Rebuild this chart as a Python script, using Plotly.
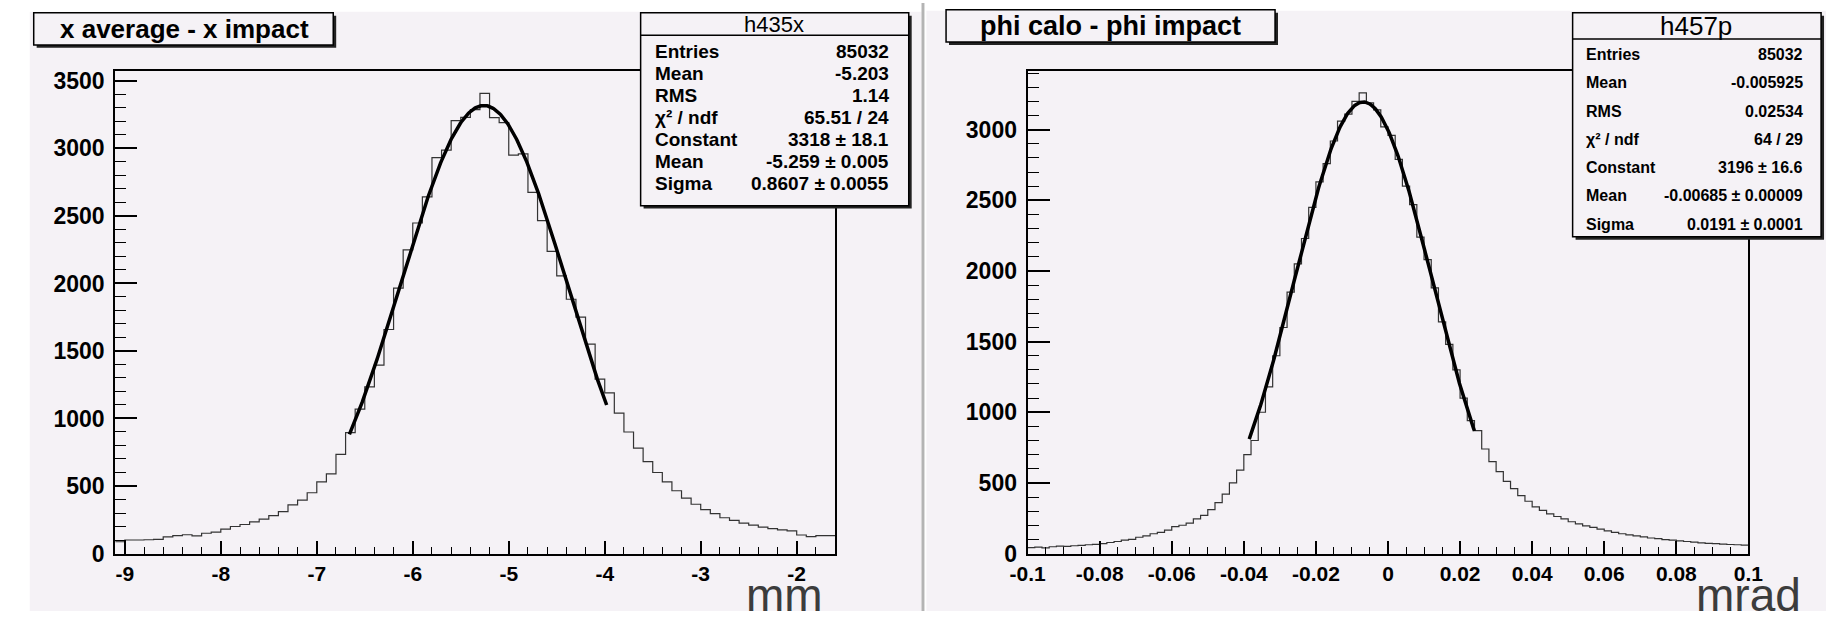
import numpy as np
import plotly.graph_objects as go

W, H = 1841, 624

# ---------------- data ----------------
# left histogram: x average - x impact (mm), 75 bins of 0.1 from -9.1
x_bin_lo = -9.1
x_bin_w = 0.1
x_counts = [87, 100, 100, 102, 105, 123, 132, 139, 130, 150,
            158, 180, 200, 215, 235, 255, 280, 310, 360, 395,
            450, 530, 590, 734, 895, 1070, 1234, 1395, 1659, 1965,
            2249, 2448, 2641, 2932, 2987, 3206, 3230, 3287, 3408, 3228,
            3191, 2951, 2960, 2675, 2465, 2237, 2056, 1883, 1751, 1551,
            1291, 1190, 1040, 900, 780, 680, 600, 530, 465, 410,
            365, 325, 295, 265, 245, 225, 210, 195, 185, 175,
            168, 137, 125, 132, 132]
x_fit = {"const": 3318, "mean": -5.259, "sigma": 0.8607, "lo": -6.66, "hi": -3.98}
x_xticks = [-9, -8, -7, -6, -5, -4, -3, -2]
x_xticktext = ["-9", "-8", "-7", "-6", "-5", "-4", "-3", "-2"]
x_yticks = [0, 500, 1000, 1500, 2000, 2500, 3000, 3500]

# right histogram: phi calo - phi impact (mrad), 100 bins of 0.002 from -0.1
p_bin_lo = -0.1
p_bin_w = 0.002
p_counts = [42, 45, 40, 48, 52, 50, 55, 58, 62, 65,
            70, 78, 85, 95, 100, 115, 125, 140, 150, 165,
            190, 200, 215, 245, 270, 310, 360, 420, 500, 590,
            700, 800, 1000, 1180, 1400, 1600, 1850, 2050, 2230, 2450,
            2630, 2760, 2920, 3060, 3110, 3200, 3260, 3190, 3140, 3020,
            2960, 2790, 2600, 2470, 2240, 2080, 1880, 1640, 1480, 1300,
            1100, 940, 870, 740, 650, 580, 510, 460, 410, 370,
            330, 305, 280, 262, 245, 225, 210, 195, 185, 172,
            160, 150, 140, 132, 125, 118, 110, 105, 98, 95,
            90, 85, 80, 76, 72, 70, 66, 64, 62, 60]
p_fit = {"const": 3196, "mean": -0.00685, "sigma": 0.0191, "lo": -0.0385, "hi": 0.024}
p_xticks = [-0.1, -0.08, -0.06, -0.04, -0.02, 0, 0.02, 0.04, 0.06, 0.08, 0.1]
p_xticktext = ["-0.1", "-0.08", "-0.06", "-0.04", "-0.02", "0", "0.02", "0.04", "0.06", "0.08", "0.1"]
p_yticks = [0, 500, 1000, 1500, 2000, 2500, 3000]

stat_labels = ["Entries", "Mean", "RMS", "χ² / ndf", "Constant", "Mean", "Sigma"]
x_stat_values = ["85032", "-5.203", "1.14", "65.51 / 24", "3318 ± 18.1", "-5.259 ± 0.005", "0.8607 ± 0.0055"]
p_stat_values = ["85032", "-0.005925", "0.02534", "64 / 29", "3196 ± 16.6", "-0.00685 ± 0.00009", "0.0191 ± 0.0001"]

# ---------------- helpers ----------------
BG = "#f5f2f6"
FONT = "Liberation Sans, Arial, Helvetica, sans-serif"


def px(x):
    return x / W


def py(y):
    return 1 - y / H


def step_xy(lo, w, counts):
    edges = lo + w * np.arange(len(counts) + 1)
    ys = list(counts) + [counts[-1]]
    return edges, ys


def gauss(p, n=300):
    xs = np.linspace(p["lo"], p["hi"], n)
    return xs, p["const"] * np.exp(-0.5 * ((xs - p["mean"]) / p["sigma"]) ** 2)


fig = go.Figure()

ex, ey = step_xy(x_bin_lo, x_bin_w, x_counts)
fig.add_trace(go.Scatter(x=ex, y=ey, mode="lines", line=dict(shape="hv", color="#333333", width=1.2),
                         xaxis="x", yaxis="y", hoverinfo="skip"))
fx, fy = gauss(x_fit)
fig.add_trace(go.Scatter(x=fx, y=fy, mode="lines", line=dict(color="black", width=3.5),
                         xaxis="x", yaxis="y", hoverinfo="skip"))

ex2, ey2 = step_xy(p_bin_lo, p_bin_w, p_counts)
fig.add_trace(go.Scatter(x=ex2, y=ey2, mode="lines", line=dict(shape="hv", color="#333333", width=1.2),
                         xaxis="x2", yaxis="y2", hoverinfo="skip"))
fx2, fy2 = gauss(p_fit)
fig.add_trace(go.Scatter(x=fx2, y=fy2, mode="lines", line=dict(color="black", width=3.5),
                         xaxis="x2", yaxis="y2", hoverinfo="skip"))

ydom = [py(565), py(70)]
xtickfont = dict(family=FONT, size=21, color="black", weight="bold")
ytickfont = dict(family=FONT, size=23, color="black", weight="bold")

common_axis = dict(showgrid=False, zeroline=False, showline=True, linecolor="black", linewidth=2,
                   mirror=True, ticks="inside", tickcolor="black", tickwidth=1.5)

fig.update_layout(
    width=W, height=H, margin=dict(l=0, r=0, t=0, b=0),
    paper_bgcolor="white", plot_bgcolor="rgba(0,0,0,0)", showlegend=False,
    xaxis=dict(domain=[px(99), px(832)], range=[-9.1, -1.6], anchor="y",
               tickmode="array", tickvals=x_xticks, ticktext=x_xticktext, ticklen=13,
               minor=dict(ticks="inside", tick0=-9, dtick=0.2, ticklen=7, tickcolor="black", tickwidth=1),
               tickfont=xtickfont, **common_axis),
    yaxis=dict(domain=ydom, range=[0, 3572], anchor="x",
               tickmode="array", tickvals=x_yticks, ticktext=[str(v) for v in x_yticks], ticklen=22,
               minor=dict(ticks="inside", tick0=0, dtick=100, ticklen=11, tickcolor="black", tickwidth=1),
               tickfont=ytickfont, ticklabelstandoff=4, **common_axis),
    xaxis2=dict(domain=[px(1028), px(1762)], range=[-0.1, 0.1], anchor="y2",
                tickmode="array", tickvals=p_xticks, ticktext=p_xticktext, ticklen=13,
                minor=dict(ticks="inside", tick0=-0.1, dtick=0.005, ticklen=7, tickcolor="black", tickwidth=1),
                tickfont=xtickfont, **common_axis),
    yaxis2=dict(domain=ydom, range=[0, 3414], anchor="x2",
                tickmode="array", tickvals=p_yticks, ticktext=[str(v) for v in p_yticks], ticklen=22,
                minor=dict(ticks="inside", tick0=0, dtick=100, ticklen=11, tickcolor="black", tickwidth=1),
                tickfont=ytickfont, ticklabelstandoff=4, **common_axis),
)

shapes = []
# pads
shapes.append(dict(type="rect", xref="paper", yref="paper", x0=px(12), x1=px(920), y0=py(624), y1=py(9),
                   fillcolor=BG, line=dict(width=0), layer="below"))
shapes.append(dict(type="rect", xref="paper", yref="paper", x0=px(920), x1=px(923), y0=py(624), y1=py(0),
                   fillcolor="#b4b4b4", line=dict(width=0), layer="below"))
shapes.append(dict(type="rect", xref="paper", yref="paper", x0=px(925), x1=px(1841), y0=py(624), y1=py(8),
                   fillcolor=BG, line=dict(width=0), layer="below"))


def boxed(x0, y0, x1, y1, shadow=3):
    shapes.append(dict(type="rect", xref="paper", yref="paper", x0=px(x0 + shadow), x1=px(x1 + shadow),
                       y0=py(y1 + shadow), y1=py(y0 + shadow), fillcolor="#222222", line=dict(width=0),
                       layer="above"))
    shapes.append(dict(type="rect", xref="paper", yref="paper", x0=px(x0), x1=px(x1), y0=py(y1), y1=py(y0),
                       fillcolor=BG, line=dict(color="black", width=1.5), layer="above"))


annotations = []


def text(x, y, s, size, anchor="left", bold=True, family=FONT, color="black"):
    annotations.append(dict(xref="paper", yref="paper", x=px(x), y=py(y), text=s, showarrow=False,
                            xanchor=anchor, yanchor="middle",
                            font=dict(family=family, size=size, color=color, weight="bold" if bold else "normal")))


# title boxes
boxed(16, 10, 321, 43)
text(170, 27, "x average - x impact", 26, anchor="center")
boxed(945, 7, 1280, 40)
text(1112, 24, "phi calo - phi impact", 27, anchor="center")

# stats box left
boxed(634, 10, 907, 208, shadow=3)
shapes.append(dict(type="line", xref="paper", yref="paper", x0=px(634), x1=px(907), y0=py(33), y1=py(33),
                   line=dict(color="black", width=1.5), layer="above"))
text(770, 22, "h435x", 22, anchor="center", bold=False)
for k, (lab, val) in enumerate(zip(stat_labels, x_stat_values)):
    yy = 50 + 22.5 * k
    text(647, yy, lab, 19)
    text(889, yy, val, 19, anchor="right")

# stats box right
boxed(1583, 10, 1836, 240, shadow=3)
shapes.append(dict(type="line", xref="paper", yref="paper", x0=px(1583), x1=px(1836), y0=py(37), y1=py(37),
                   line=dict(color="black", width=1.5), layer="above"))
text(1709, 24, "h457p", 26, anchor="center", bold=False)
for k, (lab, val) in enumerate(zip(stat_labels, p_stat_values)):
    yy = 53 + 29 * k
    text(1595, yy, lab, 16)
    text(1820, yy, val, 16, anchor="right")

# axis unit labels
text(822, 608, "mm", 46, anchor="right", bold=False, color="#3c3c3c")
text(1818, 608, "mrad", 46, anchor="right", bold=False, color="#3c3c3c")

fig.update_layout(shapes=shapes, annotations=annotations)
fig.write_html("out.html")
